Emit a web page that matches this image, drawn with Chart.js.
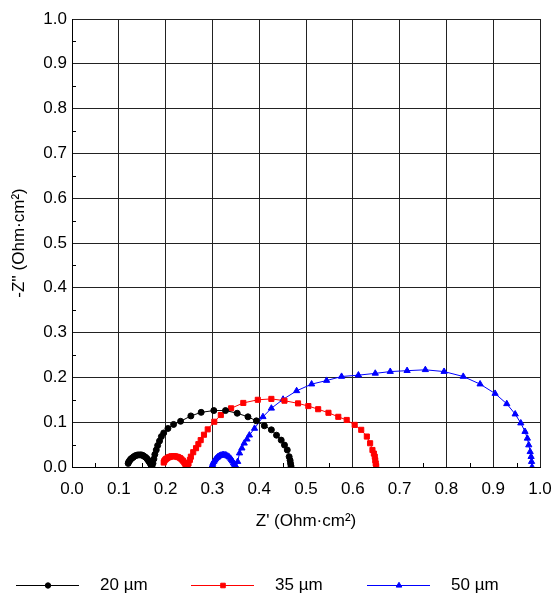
<!DOCTYPE html>
<html>
<head>
<meta charset="utf-8">
<script src="https://cdn.jsdelivr.net/npm/chart.js@4.4.0/dist/chart.umd.min.js"></script>
<style>
  html, body { margin: 0; padding: 0; background: #fff; }
  canvas { display: block; }
</style>
</head>
<body>
<canvas id="nyquist" width="556" height="599"></canvas>
<script>
// Nyquist data, Z' and -Z'' in Ohm·cm²
const seriesNames = ['20 µm', '35 µm', '50 µm'];

const re20 = [0.120, 0.121, 0.123, 0.125, 0.127, 0.130, 0.132, 0.135, 0.138, 0.141, 0.145, 0.148,
  0.151, 0.154, 0.157, 0.160, 0.162, 0.164, 0.166, 0.168, 0.169, 0.170, 0.171,
  0.173, 0.175, 0.177, 0.180, 0.183, 0.187, 0.191, 0.196, 0.205, 0.217, 0.232, 0.254, 0.276, 0.303,
  0.328, 0.353, 0.376, 0.394, 0.411, 0.426, 0.437, 0.447, 0.454, 0.460, 0.464, 0.466, 0.467, 0.468];
const im20 = [0.008, 0.011, 0.014, 0.017, 0.019, 0.021, 0.023, 0.025, 0.026, 0.027, 0.027, 0.027,
  0.026, 0.024, 0.022, 0.019, 0.016, 0.013, 0.010, 0.007, 0.004, 0.002, 0.000,
  0.008, 0.018, 0.028, 0.038, 0.048, 0.058, 0.068, 0.076, 0.086, 0.095, 0.102, 0.114, 0.122, 0.126,
  0.126, 0.120, 0.112, 0.103, 0.092, 0.083, 0.071, 0.060, 0.049, 0.038, 0.023, 0.015, 0.008, 0.002];

const re35 = [0.196, 0.197, 0.199, 0.201, 0.204, 0.207, 0.210, 0.213, 0.217, 0.220, 0.224, 0.227,
  0.231, 0.234, 0.237, 0.240, 0.242, 0.244, 0.246, 0.247,
  0.249, 0.252, 0.254, 0.259, 0.265, 0.270, 0.275, 0.282, 0.290, 0.304, 0.318, 0.340, 0.366, 0.397,
  0.426, 0.454, 0.483, 0.505, 0.526, 0.548, 0.569, 0.587, 0.604, 0.618, 0.630, 0.637, 0.642, 0.645,
  0.647, 0.648, 0.649, 0.650];
const im35 = [0.010, 0.013, 0.016, 0.018, 0.020, 0.022, 0.023, 0.024, 0.024, 0.024, 0.023, 0.022,
  0.020, 0.017, 0.014, 0.010, 0.007, 0.004, 0.001, 0.000,
  0.008, 0.016, 0.023, 0.033, 0.042, 0.051, 0.060, 0.072, 0.084, 0.101, 0.116, 0.131, 0.143, 0.150,
  0.152, 0.148, 0.142, 0.136, 0.129, 0.121, 0.112, 0.105, 0.094, 0.083, 0.068, 0.053, 0.038, 0.030,
  0.023, 0.015, 0.008, 0.002];

const re50 = [0.300, 0.301, 0.303, 0.305, 0.307, 0.310, 0.312, 0.315, 0.318, 0.321, 0.324, 0.327,
  0.330, 0.333, 0.336, 0.339, 0.341, 0.343, 0.345, 0.347, 0.348, 0.350, 0.351,
  0.354, 0.358, 0.363, 0.368, 0.374, 0.379, 0.390, 0.408, 0.426, 0.451, 0.480, 0.512, 0.544, 0.576,
  0.612, 0.648, 0.680, 0.716, 0.755, 0.795, 0.836, 0.872, 0.904, 0.929, 0.947, 0.959, 0.968, 0.973,
  0.976, 0.979, 0.981, 0.982, 0.983];
const im50 = [0.004, 0.008, 0.012, 0.015, 0.018, 0.021, 0.023, 0.025, 0.026, 0.027, 0.027, 0.027,
  0.026, 0.024, 0.022, 0.019, 0.016, 0.013, 0.009, 0.006, 0.003, 0.001, 0.000,
  0.012, 0.031, 0.042, 0.053, 0.062, 0.071, 0.086, 0.112, 0.131, 0.151, 0.170, 0.185, 0.193, 0.202,
  0.205, 0.209, 0.213, 0.215, 0.217, 0.213, 0.202, 0.185, 0.164, 0.141, 0.118, 0.098, 0.079, 0.064,
  0.049, 0.034, 0.023, 0.012, 0.000];

const toPoints = (xs, ys) => xs.map((x, i) => ({ x: x, y: ys[i] }));

const fontFamily = "'Liberation Sans', Arial, Helvetica, sans-serif";
const tickFont = { family: fontFamily, size: 17 };
const titleFont = { family: fontFamily, size: 17 };

// minor tick marks at the half steps, drawn inside the frame
const minorTicks = {
  id: 'minorTicks',
  beforeDatasetsDraw(chart) {
    const { ctx, chartArea: area } = chart;
    const xs = chart.scales.x, ys = chart.scales.y;
    ctx.save();
    ctx.strokeStyle = '#000';
    ctx.lineWidth = 1;
    ctx.beginPath();
    for (let k = 0; k < 10; k++) {
      const v = 0.05 + k * 0.1;
      const px = Math.round(xs.getPixelForValue(v)) + 0.5;
      ctx.moveTo(px, area.bottom);
      ctx.lineTo(px, area.bottom - 4);
      const py = Math.round(ys.getPixelForValue(v)) + 0.5;
      ctx.moveTo(area.left, py);
      ctx.lineTo(area.left + 4, py);
    }
    ctx.stroke();
    ctx.restore();
  }
};

// legend row at the bottom: line sample with marker, then label
const bottomLegend = {
  id: 'bottomLegend',
  afterDraw(chart) {
    const ctx = chart.ctx;
    const y = 585.5;
    const starts = [16, 191, 367];
    chart.data.datasets.forEach((ds, i) => {
      const x0 = starts[i];
      ctx.save();
      ctx.strokeStyle = ds.borderColor;
      ctx.fillStyle = ds.backgroundColor;
      ctx.lineWidth = 1;
      ctx.beginPath();
      ctx.moveTo(x0, y);
      ctx.lineTo(x0 + 63, y);
      ctx.stroke();
      Chart.helpers.drawPoint(ctx, { pointStyle: ds.pointStyle, radius: ds.pointRadius * 0.9, borderWidth: 1, rotation: 0 }, x0 + 32, y);
      ctx.fillStyle = '#000';
      ctx.font = '17px ' + fontFamily;
      ctx.textBaseline = 'middle';
      ctx.textAlign = 'left';
      ctx.fillText(ds.label, x0 + 84, y);
      ctx.restore();
    });
  }
};

new Chart(document.getElementById('nyquist'), {
  type: 'scatter',
  data: {
    datasets: [{
      label: seriesNames[0],
      data: toPoints(re20, im20),
      borderColor: '#000',
      backgroundColor: '#000',
      pointStyle: 'circle',
      pointRadius: 3
    }, {
      label: seriesNames[1],
      data: toPoints(re35, im35),
      borderColor: '#ff0000',
      backgroundColor: '#ff0000',
      pointStyle: 'rect',
      pointRadius: 3.6
    }, {
      label: seriesNames[2],
      data: toPoints(re50, im50),
      borderColor: '#0000ff',
      backgroundColor: '#0000ff',
      pointStyle: 'triangle',
      pointRadius: 3.6
    }].map(ds => Object.assign(ds, { showLine: true, borderWidth: 1, pointBorderWidth: 1, tension: 0 }))
  },
  options: {
    responsive: false,
    animation: false,
    layout: { padding: { top: 19, right: 16, bottom: 62, left: 0 } },
    plugins: {
      legend: { display: false },
      tooltip: { enabled: false }
    },
    scales: {
      x: {
        type: 'linear',
        min: 0,
        max: 1,
        afterFit(scale) {
          scale.height = 70;
          scale.paddingLeft = 0;
          scale.paddingRight = 0;
        },
        ticks: { stepSize: 0.1, callback: v => v.toFixed(1), color: '#000', font: tickFont, padding: 12, maxRotation: 0 },
        grid: { color: '#222', lineWidth: 1, drawTicks: false },
        border: { color: '#000', width: 1 },
        title: { display: true, text: "Z' (Ohm·cm²)", color: '#000', font: titleFont, padding: { top: 0, bottom: 5 } }
      },
      y: {
        type: 'linear',
        min: 0,
        max: 1,
        afterFit(scale) {
          scale.width = 72;
          scale.paddingTop = 0;
          scale.paddingBottom = 0;
        },
        ticks: { stepSize: 0.1, callback: v => v.toFixed(1), color: '#000', font: tickFont, padding: 5 },
        grid: { color: '#222', lineWidth: 1, drawTicks: false },
        border: { color: '#000', width: 1 },
        title: { display: true, text: "-Z'' (Ohm·cm²)", color: '#000', font: titleFont, padding: { top: 9, bottom: 0 } }
      }
    }
  },
  plugins: [minorTicks, bottomLegend]
});
</script>
</body>
</html>
